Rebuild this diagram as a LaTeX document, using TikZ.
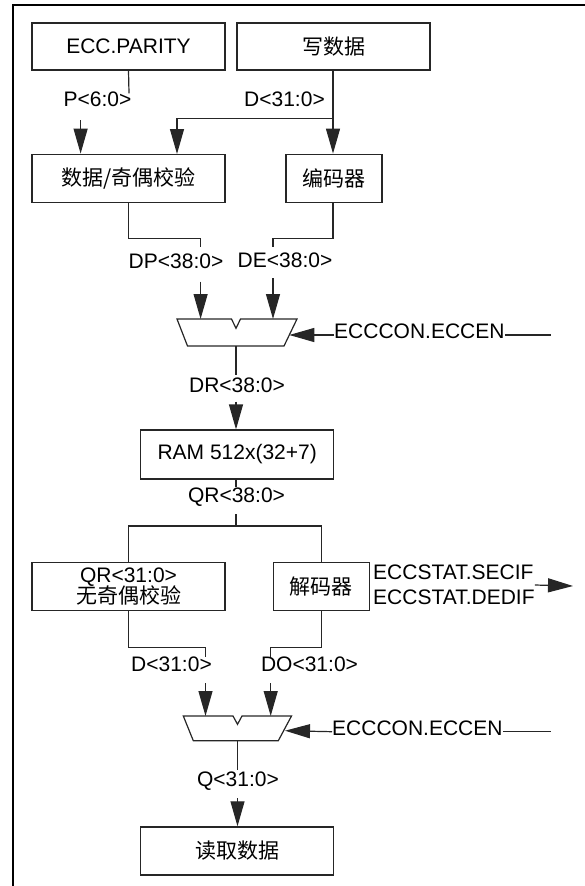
\documentclass[tikz,border=0pt]{standalone}
\usepackage{fontspec}
\setmainfont{Liberation Sans}
\newfontfamily\cjk{Noto Sans CJK SC}
\usetikzlibrary{arrows.meta}
\begin{document}
\begin{tikzpicture}[x=1pt,y=-1pt,
  every node/.style={font=\fontsize{21}{24}\selectfont, inner sep=0pt},
  box/.style={draw=black!85, line width=1.2pt, minimum height=48pt, anchor=center},
  wire/.style={draw=black!85, line width=1.2pt},
  arr/.style={wire, -{Triangle[length=25pt,width=14pt]}},
  lbl/.style={text height=0.72em, text depth=0pt},
  mux/.style={wire, line join=miter},
  frame/.style={draw=black, line width=2.5pt}]
\useasboundingbox (0,0) rectangle (585,886);
\draw[frame] (13,886) -- (13,5) -- (585,5);

% boxes
\node[box, minimum width=193pt, minimum height=47pt] (ecc) at (128.5,46.5) {ECC.PARITY};
\node[box, minimum width=193pt, minimum height=47pt] (wr) at (333.5,46.5) {\cjk 写数据};
\node[box, minimum width=193pt] (dpc) at (128.5,178.2) {\cjk 数据/奇偶校验};
\node[box, minimum width=96pt] (enc) at (334,178.2) {\cjk 编码器};
\node[box, minimum width=193pt, minimum height=49pt] (ram) at (237.2,454.5) {RAM 512x(32+7)};
\node[box, minimum width=193pt, align=center] (nop) at (128.5,586.7) {QR<31:0>\\[-3pt]{\cjk 无奇偶校验}};
\node[box, minimum width=96pt] (dec) at (321.2,586.7) {\cjk 解码器};
\node[box, minimum width=193pt] (rd) at (237.2,850.9) {\cjk 读取数据};

% labels
\node[lbl] (lP) at (97.5,103) {P<6:0>};
\node[lbl] (lD) at (284.5,103) {D<31:0>};
\node[lbl] (lDP) at (176,265) {DP<38:0>};
\node[lbl] (lDE) at (285,264) {DE<38:0>};
\node[lbl] (lDR) at (237,389.3) {DR<38:0>};
\node[lbl] (lQR) at (236.5,499.3) {QR<38:0>};
\node[lbl] (lD2) at (171.5,668.3) {D<31:0>};
\node[lbl] (lDO) at (309.5,668.3) {DO<31:0>};
\node[lbl] (lQ) at (238,783.3) {Q<31:0>};
\node[lbl, anchor=west] (ctrl1) at (334,335) {ECCCON.ECCEN};
\node[lbl, anchor=west] (ctrl2) at (332,731.7) {ECCCON.ECCEN};
\node[align=left, anchor=west, font=\fontsize{21}{24.6}\selectfont] (stat) at (373,585) {ECCSTAT.SECIF\\ECCSTAT.DEDIF};

% coordinates
\coordinate (pEnd) at (129,93.3);
\coordinate (pStart) at (80.6,120);
\coordinate (dSplit) at (333,118.3);
\coordinate (dpIn) at (177,154);
\coordinate (dpOut) at (200.6,246.7);
\coordinate (deOut) at (273,246.7);
\coordinate (dpArr) at (200.6,281.7);
\coordinate (deArr) at (273,278);
\coordinate (m1a) at (200.6,319);
\coordinate (m1b) at (273,319);
\coordinate (m1c) at (289.3,335);
\coordinate (m1o) at (236,346);
\coordinate (drEnd) at (236,375);
\coordinate (drArr) at (236,401.7);
\coordinate (c1end) at (551,335);
\coordinate (qrEnd) at (236,487.3);
\coordinate (qrTop) at (236,514.3);
\coordinate (qrMid) at (236,526);
\coordinate (dOut) at (205.5,657);
\coordinate (doOut) at (270.7,657);
\coordinate (dArr) at (205.5,683.3);
\coordinate (doArr) at (270.7,683.3);
\coordinate (m2a) at (205.5,716);
\coordinate (m2b) at (270.7,716);
\coordinate (m2c) at (285,730.7);
\coordinate (m2o) at (237.5,740.7);
\coordinate (qEnd) at (237.5,770);
\coordinate (qArr) at (237.5,798.3);
\coordinate (c2end) at (551,731.7);
\coordinate (statTip) at (573,586);

% muxes
\draw[mux] (177,319) -- (231.5,319) -- (236,328.3) -- (240.5,319) -- (297,319) -- (284,346) -- (187.5,346) -- cycle;
\draw[mux] (183.3,716) -- (233,716) -- (237.5,724.3) -- (242,716) -- (291.5,716) -- (278.3,740.7) -- (193.3,740.7) -- cycle;

% connectors
\draw[wire] (ecc.south) -- (pEnd);
\draw[arr] (pStart) -- (pStart |- dpc.north);
\draw[wire] (wr.south -| dSplit) -- (dSplit);
\draw[arr] (dSplit) -- (dSplit |- enc.north);
\draw[arr] (dSplit) -| (dpIn);
\draw[wire] (dpc.south) -- ++(0,35.5) -| (dpOut);
\draw[wire] (enc.south -| dSplit) -- ++(0,35.5) -| (deOut);
\draw[arr] (dpArr) -- (m1a);
\draw[arr] (deArr) -- (m1b);
\draw[wire] (ctrl1.east) -- (c1end);
\draw[arr] (ctrl1.west) -- (m1c);
\draw[wire] (m1o) -- (drEnd);
\draw[arr] (drArr) -- (drArr |- ram.north);
\draw[wire] (ram.south -| qrEnd) -- (qrEnd);
\draw[wire] (qrTop) -- (qrMid);
\draw[wire] (nop.north) |- (qrMid) -| (dec.north);
\draw[wire] (nop.south) -- ++(0,36) -| (dOut);
\draw[wire] (dec.south) -- ++(0,36) -| (doOut);
\draw[arr] (dArr) -- (m2a);
\draw[arr] (doArr) -- (m2b);
\draw[wire] (ctrl2.east) -- (c2end);
\draw[arr] (ctrl2.west) -- (m2c);
\draw[wire] (m2o) -- (qEnd);
\draw[arr] (qArr) -- (qArr |- rd.north);
\draw[arr] (stat.east) -- (statTip);
\end{tikzpicture}
\end{document}
